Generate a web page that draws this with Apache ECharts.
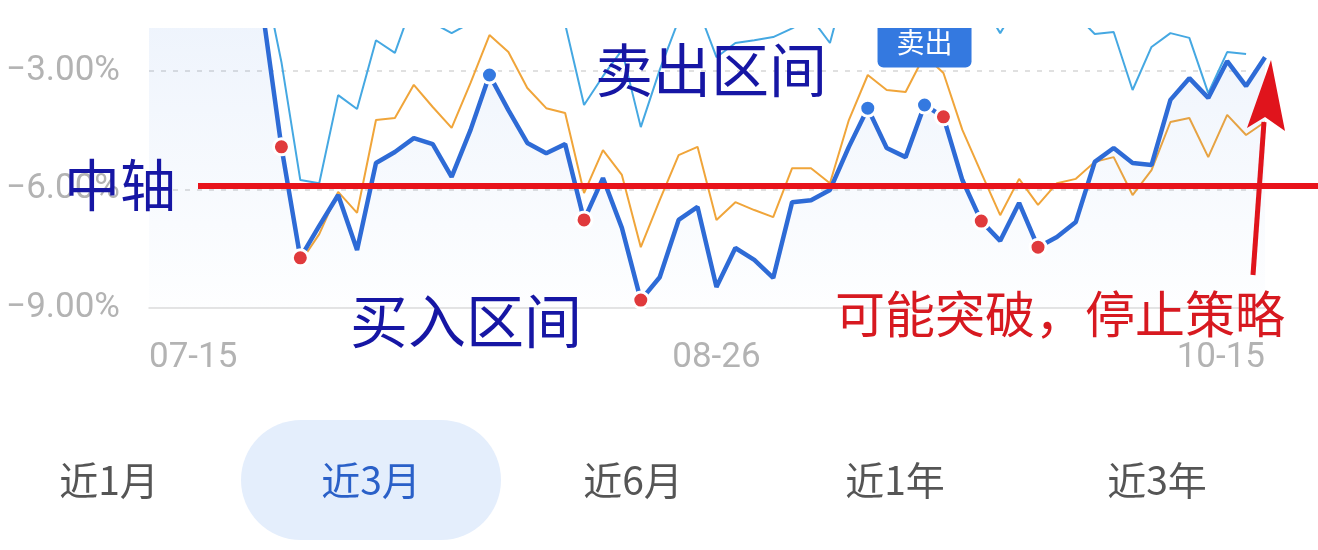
<!DOCTYPE html>
<html><head><meta charset="utf-8">
<script src="https://cdn.jsdelivr.net/npm/echarts@6/dist/echarts.min.js"></script>
<style>html,body{margin:0;padding:0;background:#fff;}#c{width:1318px;height:550px;}</style>
</head><body><div id="c"></div>
<script>
// ---- data ----
const dates = ['07-15','07-16','07-19','07-20','07-21','07-22','07-23','07-26','07-27','07-28',
  '07-29','07-30','08-02','08-03','08-04','08-05','08-06','08-09','08-10','08-11',
  '08-12','08-13','08-16','08-17','08-18','08-19','08-20','08-23','08-24','08-25',
  '08-26','08-27','08-30','08-31','09-01','09-02','09-03','09-06','09-07','09-08',
  '09-09','09-10','09-13','09-14','09-15','09-16','09-17','09-22','09-23','09-24',
  '09-27','09-28','09-29','09-30','10-08','10-11','10-12','10-13','10-14','10-15'];
const mainValues = [-0.9,-0.6,-0.4,-0.7,-1.0,-1.2,-1.45,-4.92,-7.73,-6.92,
  -6.14,-7.53,-5.33,-5.05,-4.70,-4.85,-5.68,-4.49,-3.10,-3.99,
  -4.82,-5.08,-4.85,-6.77,-5.71,-6.97,-8.80,-8.22,-6.77,-6.44,
  -8.47,-7.48,-7.78,-8.24,-6.32,-6.27,-6.01,-4.92,-3.94,-4.95,
  -5.18,-3.86,-4.16,-5.76,-6.80,-7.30,-6.34,-7.46,-7.20,-6.82,
  -5.30,-4.95,-5.33,-5.38,-3.73,-3.18,-3.68,-2.75,-3.38,-2.65];
const orangeValues = [-0.6,-0.3,-0.2,-0.5,-0.8,-1.0,-1.3,-4.95,-7.84,-7.13,
  -6.06,-6.59,-4.24,-4.19,-3.35,-3.91,-4.44,-3.30,-2.09,-2.52,
  -3.43,-3.94,-4.06,-6.09,-5.00,-5.63,-7.46,-6.27,-5.13,-4.92,
  -6.77,-6.32,-6.52,-6.70,-5.46,-5.46,-5.84,-4.24,-3.10,-3.48,
  -3.53,-2.60,-3.05,-4.49,-5.58,-6.65,-5.73,-6.39,-5.84,-5.73,
  -5.30,-5.18,-6.14,-5.51,-4.29,-4.19,-5.18,-4.11,-4.62,-4.29];
const cyanValues = [-0.2,0.1,0.3,0.0,-0.3,-0.2,-0.44,-2.77,-5.76,-5.84,
  -3.61,-3.96,-2.22,-2.54,-1.2,-1.78,-2.04,-1.78,-0.9,-1.0,
  -1.3,-1.5,-1.81,-3.86,-3.13,-2.47,-4.42,-2.97,-1.71,-1.38,
  -2.65,-2.29,-2.22,-2.14,-1.92,-1.65,-2.29,-0.5,-0.2,-0.4,
  -0.6,-0.3,-0.5,-0.9,-1.24,-2.04,-1.24,-1.0,-1.3,-1.58,
  -2.06,-2.01,-3.48,-2.39,-2.04,-2.16,-3.56,-2.52,-2.57,null];
const buyIdx = [7,8,23,26,42,44,47];
const sellIdx = [18,38,41];
const sellBadgeIdx = 41;
const xLabelDates = ['07-15','08-26','10-15'];
const yTickValues = [-9,-6,-3];
const tabs = ['近1月','近3月','近6月','近1年','近3年'];
const selectedTab = '近3月';

// ---- chart ----
const chart = echarts.init(document.getElementById('c'), null, {renderer:'canvas'});
const fmtY = v => yTickValues.includes(v) ? (v < 0 ? '\u2212' : '') + Math.abs(v).toFixed(2) + '%' : '';
const buyData = buyIdx.map(i => [i, mainValues[i]]);
const sellData = sellIdx.map(i => {
  const d = {value: [i, mainValues[i]]};
  if (i === sellBadgeIdx) {
    d.label = {show: true, formatter: '卖出', position: 'top', distance: 28,
      color: '#fff', fontSize: 28, fontFamily: '"Noto Sans CJK SC"',
      backgroundColor: '#3479e0', borderRadius: 6, padding: [11, 19]};
  }
  return d;
});

const tabGraphics = [];
tabs.forEach((t, k) => {
  const cx = 109 + k * 262;
  if (t === selectedTab) {
    tabGraphics.push({type:'rect', x: cx - 130, y: 420, shape:{width:260, height:120, r:60},
      style:{fill:'#e4eefc'}, z: 90});
  }
  tabGraphics.push({type:'text', x: cx, y: 480, z: 91,
    style:{text: t, font: '39px "Noto Sans CJK SC"', fill: t === selectedTab ? '#2a60c8' : '#555555',
      align:'center', verticalAlign:'middle'}});
});

const option = {
  animation: false,
  backgroundColor: '#ffffff',
  grid: {left: 149, right: 53, top: 28, bottom: 242},
  xAxis: {
    type: 'category', data: dates, boundaryGap: false,
    axisLine: {lineStyle: {color: '#dcdcdc', width: 1.5}},
    axisTick: {show: false},
    splitLine: {show: false},
    axisLabel: {
      interval: (idx, val) => xLabelDates.includes(val),
      margin: 33, color: '#b3b3b3', fontSize: 35, fontFamily: 'Roboto',
      alignMinLabel: 'left', alignMaxLabel: 'right'
    }
  },
  yAxis: {
    type: 'value', min: -9, max: -1.91, interval: 3,
    axisLine: {show: false}, axisTick: {show: false},
    axisLabel: {formatter: fmtY, showMaxLabel: false, margin: 29, color: '#b3b3b3', fontSize: 35, fontFamily: 'Roboto'},
    splitLine: {show: true, showMinLine: false, showMaxLine: false,
      lineStyle: {type: [5, 7], color: '#d6d6d6', width: 1.5}}
  },
  series: [
    {name: '参考线', type: 'line', data: cyanValues, symbol: 'none', z: 2,
      lineStyle: {color: '#45a8e2', width: 2}, connectNulls: false},
    {name: '均线', type: 'line', data: orangeValues, symbol: 'none', z: 2,
      lineStyle: {color: '#f0a53a', width: 2}},
    {name: '估值', type: 'line', data: mainValues, symbol: 'none', z: 3,
      lineStyle: {color: '#2e6bd6', width: 4.5},
      areaStyle: {origin: 'start', color: {type: 'linear', x: 0, y: 28, x2: 0, y2: 308, global: true,
        colorStops: [{offset: 0, color: 'rgba(64,128,224,0.12)'}, {offset: 1, color: 'rgba(64,128,224,0.01)'}]}}},
    {name: '买入', type: 'scatter', data: buyData, symbol: 'circle', symbolSize: 16, z: 4,
      itemStyle: {color: '#e03a3c', borderColor: '#ffffff', borderWidth: 3, opacity: 1}},
    {name: '卖出', type: 'scatter', data: sellData, symbol: 'circle', symbolSize: 16, z: 4,
      itemStyle: {color: '#3479e0', borderColor: '#ffffff', borderWidth: 3, opacity: 1}}
  ],
  graphic: [
    {type: 'rect', x: 0, y: 0, shape: {width: 1318, height: 28}, style: {fill: '#ffffff'}, z: 50},
    {type: 'line', shape: {x1: 198, y1: 186, x2: 1318, y2: 186}, style: {stroke: '#e8131b', lineWidth: 6}, z: 60},
    {type: 'line', shape: {x1: 1253, y1: 275, x2: 1264, y2: 122}, style: {stroke: '#e0141c', lineWidth: 5}, z: 61},
    {type: 'polygon', shape: {points: [[1271, 60], [1285, 131], [1265, 117], [1247, 128]]}, style: {fill: '#e0141c'}, z: 61},
    {type: 'text', x: 595, y: 70, z: 70, style: {text: '卖出区间', font: '58px "Noto Sans CJK SC"', fill: '#1616a4', align: 'left', verticalAlign: 'middle'}},
    {type: 'text', x: 64, y: 185, z: 70, style: {text: '中轴', font: '56px "Noto Sans CJK SC"', fill: '#1616a4', align: 'left', verticalAlign: 'middle'}},
    {type: 'text', x: 350, y: 321, z: 70, style: {text: '买入区间', font: '58px "Noto Sans CJK SC"', fill: '#1616a4', align: 'left', verticalAlign: 'middle'}},
    {type: 'text', x: 835, y: 314, z: 70, style: {text: '可能突破，停止策略', font: '50px "Noto Sans CJK SC"', fill: '#d71920', align: 'left', verticalAlign: 'middle'}}
  ].concat(tabGraphics)
};
chart.setOption(option);
</script></body></html>
